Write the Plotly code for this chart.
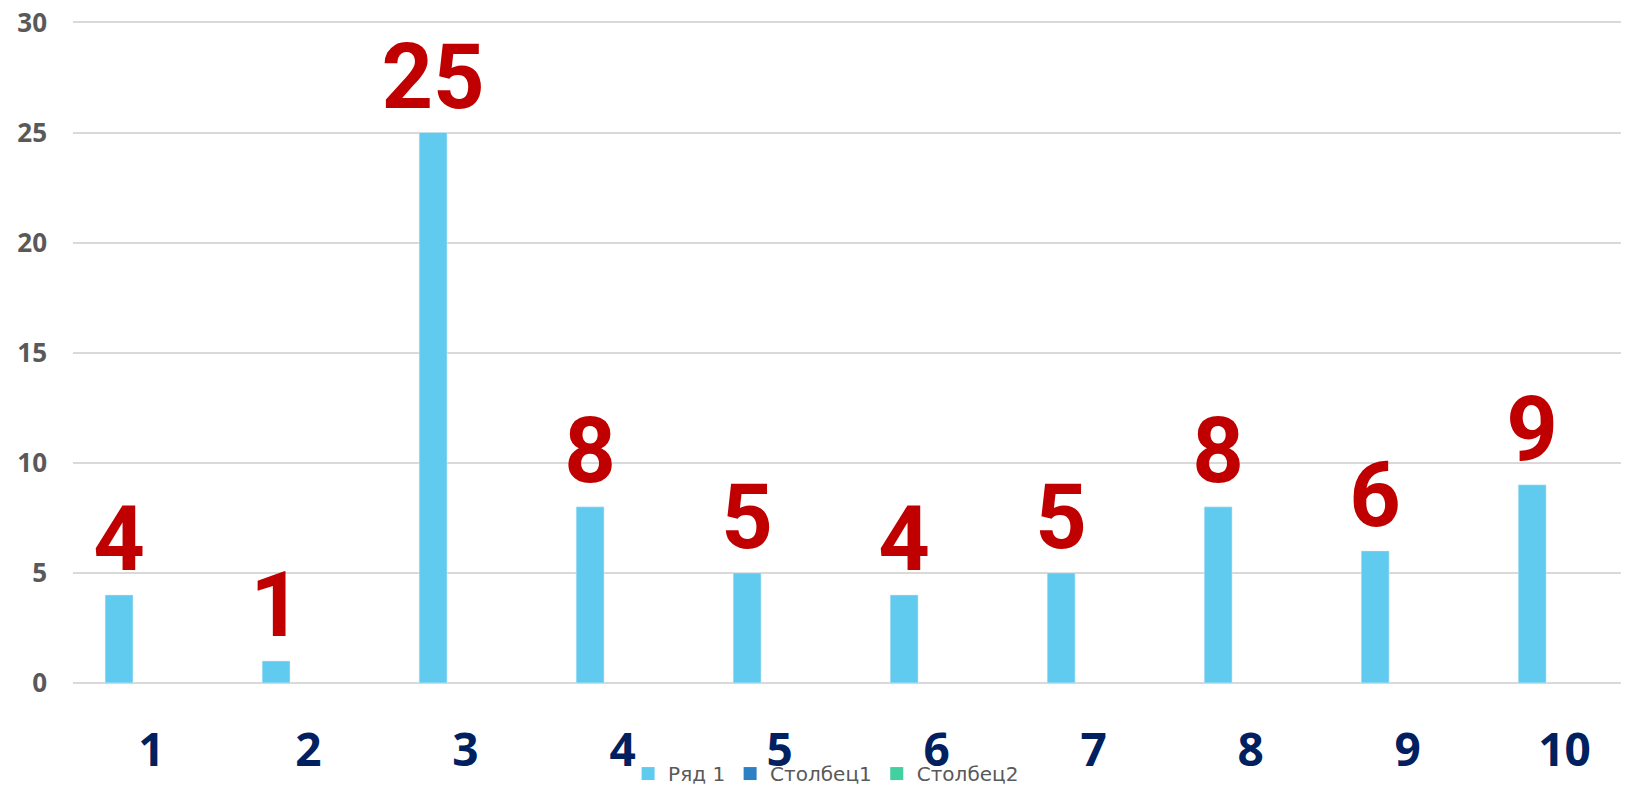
import plotly.graph_objects as go

categories = ["1", "2", "3", "4", "5", "6", "7", "8", "9", "10"]
row1 = [4, 1, 25, 8, 5, 4, 5, 8, 6, 9]
col1 = [None] * 10
col2 = [None] * 10
series_names = ["Ряд 1", "Столбец1", "Столбец2"]
y_ticks = [0, 5, 10, 15, 20, 25, 30]

colors = ["#61CBEF", "#2E80C4", "#43D0A0"]

fig = go.Figure()
fig.add_trace(go.Bar(
    x=categories, y=row1, name=series_names[0], marker_color=colors[0],
    text=[str(v) for v in row1], textposition="outside", cliponaxis=False,
    constraintext="none", showlegend=False,
    textfont=dict(family="Roboto", size=90, color="#C00000", weight="bold"),
))
fig.add_trace(go.Bar(x=categories, y=col1, name=series_names[1], marker_color=colors[1], showlegend=False))
fig.add_trace(go.Bar(x=categories, y=col2, name=series_names[2], marker_color=colors[2], showlegend=False))

# legend entries with square swatches
for name, c in zip(series_names, colors):
    fig.add_trace(go.Scatter(x=[None], y=[None], mode="markers", name=name,
                             marker=dict(symbol="square", size=13, color=c)))

# page body has an 8px margin: figure is sized/offset to compensate
fig.update_layout(
    width=1621, height=778,
    margin=dict(l=65, r=0, t=10, b=103),
    paper_bgcolor="white", plot_bgcolor="white",
    barmode="group", bargap=0.38, bargroupgap=0.14,
    showlegend=True,
    legend=dict(orientation="h", x=0.484, xanchor="center", yref="container",
                y=0.016, yanchor="middle",
                font=dict(family="DejaVu Sans", size=20, color="#595959"),
                itemwidth=30, tracegroupgap=0, bgcolor="rgba(0,0,0,0)"),
    xaxis=dict(type="category", range=[-0.5, 9.41], showgrid=False, showline=False, ticks="",
               tickfont=dict(family="Open Sans", size=46, color="#002060", weight="bold"),
               ticklabelstandoff=36, automargin=False),
    yaxis=dict(range=[0, 30.2], tickvals=y_ticks, showgrid=True, gridcolor="#D9D9D9", gridwidth=1.5,
               zeroline=True, zerolinecolor="#D9D9D9", zerolinewidth=1.5,
               tickfont=dict(family="Open Sans", size=26, color="#595959", weight="bold"),
               ticklabelstandoff=25, automargin=False, ticklabeloverflow="allow"),
)

fig.write_html("out.html")
